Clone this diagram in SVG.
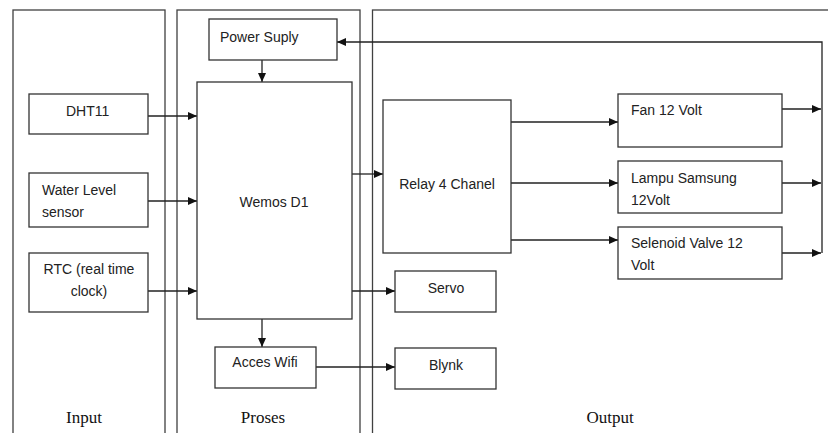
<svg xmlns="http://www.w3.org/2000/svg" width="828" height="433" viewBox="0 0 828 433">
<style>
.panel{fill:none;stroke:#404040;stroke-width:1.3}
.box{fill:#fff;stroke:#333;stroke-width:1.3}
.t{font-family:"Liberation Sans",Arial,sans-serif;font-size:14px;fill:#222}
.s{font-family:"Liberation Serif","Times New Roman",serif;font-size:17px;fill:#111}
.c{fill:none;stroke:#222;stroke-width:1.3}
</style>
<defs>
<marker id="ah" markerUnits="userSpaceOnUse" markerWidth="9" markerHeight="8" refX="9" refY="4" orient="auto">
<path d="M0,0 L9,4 L0,8 z" fill="#111"/>
</marker>
</defs>
<rect width="828" height="433" fill="#fff"/>
<g id="panels">
<rect class="panel" x="13" y="10" width="152" height="440"/>
<rect class="panel" x="177" y="10" width="183" height="440"/>
<rect class="panel" x="372.5" y="10" width="470" height="440"/>
<text class="s" x="84" y="423" text-anchor="middle">Input</text>
<text class="s" x="263" y="423" text-anchor="middle">Proses</text>
<text class="s" x="610" y="423" text-anchor="middle">Output</text>
</g>
<g id="connectors">
<line class="c" x1="262" y1="60" x2="262" y2="82" marker-end="url(#ah)"/>
<line class="c" x1="148" y1="116" x2="197" y2="116" marker-end="url(#ah)"/>
<line class="c" x1="148" y1="201" x2="197" y2="201" marker-end="url(#ah)"/>
<line class="c" x1="148" y1="291" x2="197" y2="291" marker-end="url(#ah)"/>
<line class="c" x1="352" y1="174" x2="383" y2="174" marker-end="url(#ah)"/>
<line class="c" x1="352" y1="291" x2="395" y2="291" marker-end="url(#ah)"/>
<line class="c" x1="262" y1="319" x2="262" y2="347" marker-end="url(#ah)"/>
<line class="c" x1="316" y1="367" x2="395" y2="367" marker-end="url(#ah)"/>
<line class="c" x1="511" y1="122" x2="618" y2="122" marker-end="url(#ah)"/>
<line class="c" x1="511" y1="183" x2="618" y2="183" marker-end="url(#ah)"/>
<line class="c" x1="511" y1="240" x2="618" y2="240" marker-end="url(#ah)"/>
<line class="c" x1="782" y1="109" x2="821" y2="109" marker-end="url(#ah)"/>
<line class="c" x1="782" y1="183" x2="821" y2="183" marker-end="url(#ah)"/>
<line class="c" x1="782" y1="253" x2="821" y2="253" marker-end="url(#ah)"/>
<path class="c" d="M822,253 L822,42 L337,42" marker-end="url(#ah)"/>
</g>
<g id="power">
<rect class="box" x="209" y="19" width="128" height="41"/>
<text class="t" x="220" y="42">Power Suply</text>
</g>
<g id="wemos">
<rect class="box" x="197" y="82" width="155" height="237"/>
<text class="t" x="274" y="207" text-anchor="middle">Wemos D1</text>
</g>
<g id="dht11">
<rect class="box" x="29" y="94" width="119" height="40"/>
<text class="t" x="66" y="116">DHT11</text>
</g>
<g id="water">
<rect class="box" x="29" y="173" width="119" height="54"/>
<text class="t" x="42" y="195">Water Level</text>
<text class="t" x="42" y="217">sensor</text>
</g>
<g id="rtc">
<rect class="box" x="29" y="253" width="119" height="59"/>
<text class="t" x="89" y="274" text-anchor="middle">RTC (real time</text>
<text class="t" x="89" y="296" text-anchor="middle">clock)</text>
</g>
<g id="wifi">
<rect class="box" x="215" y="347" width="101" height="41"/>
<text class="t" x="265" y="367" text-anchor="middle">Acces Wifi</text>
</g>
<g id="relay">
<rect class="box" x="383" y="100" width="128" height="153"/>
<text class="t" x="447" y="189" text-anchor="middle">Relay 4 Chanel</text>
</g>
<g id="servo">
<rect class="box" x="395" y="271" width="101" height="41"/>
<text class="t" x="446" y="293" text-anchor="middle">Servo</text>
</g>
<g id="blynk">
<rect class="box" x="395" y="348" width="101" height="41"/>
<text class="t" x="446" y="370" text-anchor="middle">Blynk</text>
</g>
<g id="fan">
<rect class="box" x="618" y="94" width="164" height="53"/>
<text class="t" x="631" y="115">Fan 12 Volt</text>
</g>
<g id="lampu">
<rect class="box" x="618" y="161" width="164" height="52"/>
<text class="t" x="631" y="183">Lampu Samsung</text>
<text class="t" x="631" y="205">12Volt</text>
</g>
<g id="selenoid">
<rect class="box" x="618" y="227" width="164" height="52"/>
<text class="t" x="631" y="248">Selenoid Valve 12</text>
<text class="t" x="631" y="270">Volt</text>
</g>
</svg>
